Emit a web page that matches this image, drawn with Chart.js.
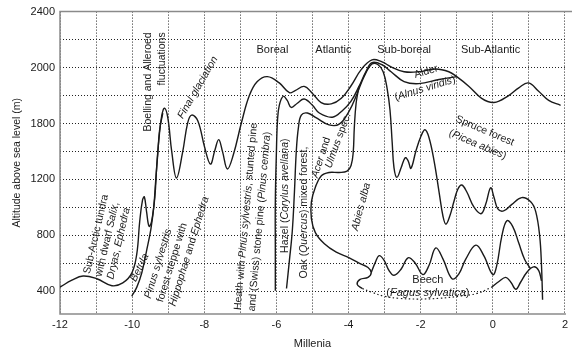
<!DOCTYPE html>
<html>
<head>
<meta charset="utf-8">
<script src="https://cdn.jsdelivr.net/npm/chart.js@4.4.0/dist/chart.umd.min.js"></script>
<style>
  html, body { margin: 0; padding: 0; background: #fff; }
</style>
</head>
<body>
<canvas id="chart" width="572" height="351"></canvas>
<script>
// curves: x in millenia, y in axis units
var mainX = [-12, -11.67, -11.36, -10.98, -10.56, -10.26, -10.01, -9.87, -9.79, -9.71, -9.66, -9.6, -9.53, -9.46, -9.37, -9.32, -9.26, -9.18, -9.1, -9.01, -8.9, -8.77, -8.6, -8.46, -8.35, -8.18, -7.99, -7.83, -7.71, -7.6, -7.49, -7.36, -7.19, -6.97, -6.75, -6.53, -6.25, -5.92, -5.64, -5.48, -5.23, -5.0, -4.76, -4.48, -4.2, -3.93, -3.65, -3.35, -3.07, -2.82, -2.46, -2.05, -1.58, -1.22, -1.0, -0.66, -0.31, 0.03, 0.44, 0.72, 0.99, 1.27, 1.55, 1.88];
var mainY = [430, 480, 510, 490, 440, 460, 530, 670, 900, 1055, 1075, 970, 865, 900, 1075, 1290, 1480, 1655, 1710, 1640, 1395, 1210, 1395, 1605, 1660, 1620, 1430, 1310, 1405, 1485, 1395, 1275, 1380, 1605, 1800, 1900, 1935, 1890, 1820, 1835, 1865, 1815, 1750, 1740, 1780, 1870, 1985, 2055, 2040, 2005, 1970, 1970, 1990, 1970, 1935, 1865, 1780, 1750, 1800, 1855, 1890, 1830, 1765, 1730];

var betulaX = [-10.01, -9.87, -9.73, -9.6, -9.48, -9.4, -9.35, -9.29, -9.24, -9.15];
var betulaY = [365, 430, 535, 690, 845, 1005, 1180, 1380, 1550, 1675];

var midX = [-6.03, -6.03, -6.03, -6.0, -5.97, -5.92, -5.81, -5.7, -5.59, -5.42, -5.23, -5.0, -4.81, -4.45, -4.18, -3.93, -3.71, -3.51, -3.35, -3.07, -2.82, -2.46, -2.05, -1.49, -1.0];
var midY = [405, 690, 1040, 1395, 1620, 1730, 1795, 1765, 1715, 1745, 1775, 1730, 1675, 1645, 1690, 1760, 1865, 1975, 2035, 2020, 1970, 1900, 1885, 1915, 1935];

var botX = [-5.72, -5.64, -5.56, -5.5, -5.45, -5.39, -5.31, -5.14, -4.89, -4.54, -4.26, -3.98, -3.76, -3.57, -3.35, -3.18, -3.04, -2.93, -2.85, -2.79, -2.74, -2.66, -2.54, -2.43, -2.35, -2.27, -2.13, -1.99, -1.88, -1.77, -1.63, -1.49, -1.38, -1.3, -1.19, -1.08, -0.97, -0.86, -0.72, -0.53, -0.33, -0.2, -0.06, 0.03, 0.14, 0.3, 0.52, 0.8, 1.05, 1.19, 1.3, 1.35, 1.38];
var botY = [420, 620, 830, 1110, 1395, 1570, 1660, 1675, 1640, 1590, 1595, 1690, 1815, 1935, 2025, 2020, 1970, 1850, 1695, 1465, 1285, 1215, 1285, 1355, 1335, 1280, 1405, 1510, 1555, 1500, 1335, 1110, 935, 880, 940, 1040, 1130, 1160, 1110, 1005, 955, 1020, 1140, 1075, 990, 975, 1020, 1070, 1040, 970, 795, 585, 340];

var oakX = [-3.71, -3.79, -3.84, -3.87, -3.93, -4.04, -4.26, -4.54, -4.76, -4.92, -5.03, -5.03, -4.92, -4.67, -4.34, -3.98, -3.65, -3.46, -3.37, -3.46, -3.68, -3.76, -3.62];
var oakY = [1865, 1745, 1570, 1395, 1300, 1260, 1250, 1250, 1225, 1145, 1040, 920, 820, 740, 680, 640, 595, 570, 535, 500, 485, 450, 420];

var beechUpX = [-3.37, -3.26, -3.15, -3.01, -2.88, -2.74, -2.54, -2.35, -2.16, -1.94, -1.77, -1.58, -1.38, -1.13, -0.94, -0.75, -0.47, -0.25, 0.0, 0.11, 0.25, 0.39, 0.55, 0.72, 0.88, 1.05];
var beechUpY = [535, 605, 655, 620, 550, 515, 560, 640, 605, 520, 585, 710, 630, 490, 525, 630, 730, 655, 520, 585, 795, 905, 865, 745, 630, 560];

var beechLowX = [-0.03, 0.17, 0.36, 0.5, 0.64, 0.77, 0.94, 1.13, 1.27, 1.35];
var beechLowY = [430, 470, 500, 465, 415, 465, 535, 575, 550, 475];

var beechDotX = [-3.62, -3.37, -3.01, -2.6, -2.05, -1.49, -0.94, -0.44, -0.03];
var beechDotY = [420, 395, 365, 350, 345, 350, 365, 385, 430];

// the figure's y labels are evenly spaced but read 400 800 1200 1800 2000 2400
var yTicks = [400, 600, 800, 1000, 1200, 1400, 1600, 1800, 2000, 2200, 2400];
var yTickText = { 400: '400', 800: '800', 1200: '1200', 1600: '1800', 2000: '2000', 2400: '2400' };
var xTicks = [-12, -11, -10, -9, -8, -7, -6, -5, -4, -3, -2, -1, 0, 1, 2];

// annotations, *...* = italic
var notes = [
  { text: ['Sub-Arctic tundra', 'with dwarf *Salix*,', '*Dryas*, *Ephedra*'], x: -11.25, y: 527, rot: -77, align: 'left', lh: 12 },
  { text: ['*Betula*'], x: -9.79, y: 569, rot: -64, align: 'center' },
  { text: ['*Pinus sylvestris*', 'forest steppe with', '*Hippophae* and *Ephedra*'], x: -9.57, y: 351, rot: -73, align: 'left', lh: 13 },
  { text: ['Boelling and Alleroed', 'fluctuations'], x: -9.57, y: 2252, rot: -90, align: 'right', lh: 14 },
  { text: ['*Final glaciation*'], x: -8.18, y: 1857, rot: -60, align: 'center' },
  { text: ['Heath with *Pinus sylvestris*, stunted pine', 'and (Swiss) stone pine (*Pinus cembra*)'], x: -7.07, y: 266, rot: -85, align: 'left', lh: 14 },
  { text: ['Hazel (*Corylus avellana*)'], x: -5.75, y: 675, rot: -90, align: 'left' },
  { text: ['Oak (*Quercus*) mixed forest,'], x: -5.23, y: 492, rot: -90, align: 'left' },
  { text: ['*Acer* and'], x: -4.76, y: 1357, rot: -72, align: 'center' },
  { text: ['*Ulmus* spec.'], x: -4.29, y: 1477, rot: -70, align: 'center' },
  { text: ['*Abies alba*'], x: -3.65, y: 1005, rot: -75, align: 'center' },
  { text: ['Boreal'], x: -6.11, y: 2125, rot: 0, align: 'center', size: 11 },
  { text: ['Atlantic'], x: -4.42, y: 2125, rot: 0, align: 'center', size: 11 },
  { text: ['Sub-boreal'], x: -2.46, y: 2125, rot: 0, align: 'center', size: 11 },
  { text: ['Sub-Atlantic'], x: -0.06, y: 2125, rot: 0, align: 'center', size: 11 },
  { text: ['Alder'], x: -1.85, y: 1970, rot: -17, align: 'center' },
  { text: ['(*Alnus viridis*)'], x: -1.88, y: 1850, rot: -17, align: 'center' },
  { text: ['Spruce forest'], x: -0.22, y: 1548, rot: 23, align: 'center' },
  { text: ['(*Picea abies*)'], x: -0.42, y: 1449, rot: 23, align: 'center' },
  { text: ['Beech'], x: -1.8, y: 484, rot: 0, align: 'center', size: 11 },
  { text: ['(*Fagus sylvatica*)'], x: -1.8, y: 386, rot: 0, align: 'center', size: 11 }
];

var ink = '#1a1a1a';
var family = '"Liberation Sans", Arial, sans-serif';

function pairs(xs, ys) {
  return xs.map(function (x, i) { return { x: x, y: ys[i] }; });
}

function curve(xs, ys, dash) {
  return {
    data: pairs(xs, ys),
    showLine: true,
    borderColor: ink,
    borderWidth: dash ? 1.2 : 1.4,
    borderDash: dash || [],
    pointRadius: 0,
    tension: 0.4,
    fill: false
  };
}

function fontFor(italic, size) {
  return (italic ? 'italic ' : '') + size + 'px ' + family;
}

var notesPlugin = {
  id: 'notes',
  beforeDatasetsDraw: function (chart) {
    var ctx = chart.ctx, a = chart.chartArea;
    ctx.save();
    ctx.strokeStyle = '#8a8a8a';
    ctx.lineWidth = 1.5;
    ctx.beginPath();
    ctx.moveTo(chart.width, a.top);
    ctx.lineTo(a.left, a.top);
    ctx.lineTo(a.left, a.bottom);
    ctx.lineTo(a.right + 1, a.bottom);
    ctx.stroke();
    ctx.restore();
  },
  afterDatasetsDraw: function (chart) {
    var ctx = chart.ctx;
    var xs = chart.scales.x, ys = chart.scales.y;
    notes.forEach(function (n) {
      var size = n.size || 10.5;
      var lh = n.lh || 12;
      ctx.save();
      ctx.translate(xs.getPixelForValue(n.x), ys.getPixelForValue(n.y));
      ctx.rotate(n.rot * Math.PI / 180);
      ctx.fillStyle = ink;
      ctx.textBaseline = 'middle';
      ctx.textAlign = 'left';
      n.text.forEach(function (line, i) {
        var parts = line.split('*');
        var w = 0;
        parts.forEach(function (p, k) {
          ctx.font = fontFor(k % 2 === 1, size);
          w += ctx.measureText(p).width;
        });
        var x0 = n.align === 'left' ? 0 : (n.align === 'right' ? -w : -w / 2);
        parts.forEach(function (p, k) {
          ctx.font = fontFor(k % 2 === 1, size);
          ctx.fillText(p, x0, i * lh);
          x0 += ctx.measureText(p).width;
        });
      });
      ctx.restore();
    });
  }
};

new Chart('chart', {
  type: 'scatter',
  data: {
    datasets: [
      curve(mainX, mainY),
      curve(betulaX, betulaY),
      curve(midX, midY),
      curve(botX, botY),
      curve(oakX, oakY),
      curve(beechUpX, beechUpY),
      curve(beechLowX, beechLowY),
      curve(beechDotX, beechDotY, [1.5, 2.5])
    ]
  },
  options: {
    responsive: false,
    animation: false,
    layout: { padding: { left: 0, right: 6, top: 7, bottom: 0 } },
    plugins: { legend: { display: false }, tooltip: { enabled: false } },
    scales: {
      x: {
        type: 'linear',
        min: -12,
        max: 2,
        afterFit: function (s) { s.height = 37; },
        afterBuildTicks: function (s) { s.ticks = xTicks.map(function (v) { return { value: v }; }); },
        ticks: {
          autoSkip: false,
          maxRotation: 0,
          padding: 4,
          color: ink,
          font: { family: family, size: 11 },
          callback: function (v) { return v % 2 === 0 ? String(v) : ''; }
        },
        grid: { color: '#222', lineWidth: 1, drawTicks: false },
        border: { display: false, dash: [1, 2] },
        title: { display: true, text: 'Millenia', color: ink, font: { family: family, size: 11 }, padding: 0 }
      },
      y: {
        min: 238,
        max: 2400,
        afterFit: function (s) { s.width = 60; },
        afterBuildTicks: function (s) { s.ticks = yTicks.map(function (v) { return { value: v }; }); },
        ticks: {
          autoSkip: false,
          padding: 5,
          color: ink,
          font: { family: family, size: 11 },
          callback: function (v) { return yTickText[v] || ''; }
        },
        grid: { color: '#222', lineWidth: 1, drawTicks: false },
        border: { display: false, dash: [1, 2] },
        title: { display: true, text: 'Altitude above sea level (m)', color: ink, font: { family: family, size: 10.5 }, padding: { top: 11, bottom: 0 } }
      }
    }
  },
  plugins: [notesPlugin]
});
</script>
</body>
</html>
